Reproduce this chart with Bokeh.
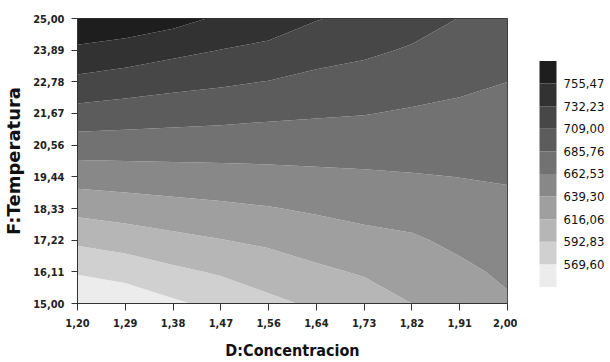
import numpy as np
from bokeh.plotting import figure
from bokeh.models import Range1d, FixedTicker
from bokeh.layouts import row
from bokeh.core.properties import value
from bokeh.embed import file_html
from bokeh.resources import INLINE

# ---------------- data ----------------
# grid positions = axis tick positions
conc = [1.20, 1.28889, 1.37778, 1.46667, 1.55556, 1.64444, 1.73333, 1.82222, 1.91111, 2.00]
temp = [15.00, 16.1111, 17.2222, 18.3333, 19.4444, 20.5556, 21.6667, 22.7778, 23.8889, 25.00]
conc_labels = ["1,20", "1,29", "1,38", "1,47", "1,56", "1,64", "1,73", "1,82", "1,91", "2,00"]
temp_labels = ["15,00", "16,11", "17,22", "18,33", "19,44", "20,56", "21,67", "22,78", "23,89", "25,00"]

# response, one row per temperature (bottom -> top),
# columns follow conc
resp_t1500 = [546.4, 553.6, 565.9, 576.1, 587.5, 596.6, 604.2, 616.1, 626.5, 636.3]
resp_t1611 = [571.9, 578.2, 588.2, 595.4, 603.8, 611.9, 618.4, 626.3, 634.7, 643.2]
resp_t1722 = [597.2, 603.3, 610.0, 615.4, 620.2, 627.0, 632.6, 636.5, 644.0, 650.2]
resp_t1833 = [623.3, 627.7, 631.4, 634.7, 638.1, 642.3, 646.3, 648.4, 653.0, 657.2]
resp_t1944 = [648.8, 650.7, 652.5, 653.9, 655.8, 657.7, 659.3, 661.1, 662.8, 664.4]
resp_t2056 = [674.8, 674.4, 673.9, 673.5, 673.0, 673.0, 673.0, 672.3, 672.1, 671.6]
resp_t2167 = [700.9, 697.9, 695.1, 693.0, 690.2, 688.1, 686.5, 683.4, 681.1, 678.6]
resp_t2278 = [726.4, 721.3, 716.2, 712.5, 708.3, 703.0, 699.7, 695.1, 690.2, 685.8]
resp_t2389 = [751.3, 745.7, 738.3, 731.8, 726.7, 718.1, 713.2, 706.7, 699.5, 693.0]
resp_t2500 = [775.9, 771.5, 763.6, 752.0, 745.0, 733.4, 726.7, 718.3, 708.5, 700.2]

contour_levels = [569.60, 592.83, 616.06, 639.30, 662.53, 685.76, 709.00, 732.23, 755.47]

# band colours, lowest band -> highest band
palette = ["#ececec", "#d0d0d0", "#b6b6b6", "#9f9f9f", "#888888",
           "#727272", "#5c5c5c", "#474747", "#323232", "#1e1e1e"]

# ---------------- main contour plot ----------------
Z = np.array([resp_t1500, resp_t1611, resp_t1722, resp_t1833, resp_t1944,
              resp_t2056, resp_t2167, resp_t2278, resp_t2389, resp_t2500])
levels_full = [float(Z.min()) - 1.0] + contour_levels + [float(Z.max()) + 1.0]

MAIN_W, H = 517, 362
p = figure(width=MAIN_W, height=H, x_range=Range1d(1.2, 2.0), y_range=Range1d(15, 25),
           output_backend="svg", toolbar_location=None,
           min_border_left=77, min_border_right=10, min_border_top=18, min_border_bottom=58)
p.contour(x=conc, y=temp, z=Z, levels=levels_full, fill_color=palette)

p.xgrid.visible = False
p.ygrid.visible = False
p.outline_line_color = "#333333"
p.outline_line_width = 1

p.xaxis.ticker = FixedTicker(ticks=conc)
p.xaxis.major_label_overrides = dict(zip(conc, conc_labels))
p.yaxis.ticker = FixedTicker(ticks=temp)
p.yaxis.major_label_overrides = dict(zip(temp, temp_labels))

for ax in (p.xaxis[0], p.yaxis[0]):
    ax.axis_line_color = "#333333"
    ax.major_tick_line_color = "#333333"
    ax.minor_tick_line_color = None
    ax.major_tick_in = 0
    ax.major_label_text_font = "DejaVu Sans Condensed"
    ax.major_label_text_font_style = "bold"
    ax.major_label_text_font_size = "11px"
    ax.major_label_text_color = "#222222"
    ax.axis_label_text_font_style = "bold"
    ax.axis_label_text_color = "#111111"

p.xaxis.major_tick_out = 7
p.yaxis.major_tick_out = 6
p.xaxis.major_label_standoff = 8
p.yaxis.major_label_standoff = 7

p.xaxis.axis_label = "D:Concentracion"
p.xaxis.axis_label_text_font = "DejaVu Sans Condensed"
p.xaxis.axis_label_text_font_size = "16px"
p.xaxis.axis_label_standoff = 11

p.yaxis.axis_label = "F:Temperatura"
p.yaxis.axis_label_text_font = "DejaVu Sans"
p.yaxis.axis_label_text_font_size = "18px"
p.yaxis.axis_label_standoff = 6

# ---------------- colour bar ----------------
step = contour_levels[1] - contour_levels[0]
edges = [contour_levels[0] - step] + contour_levels + [contour_levels[-1] + step]
cb_labels = [f"{v:.2f}".replace(".", ",") for v in contour_levels]

CB_W = 610 - MAIN_W
bar_top_px, bar_bot_px = 54, 341
per_px = (edges[-1] - edges[0]) / (bar_bot_px - bar_top_px)
y_lo = edges[0] - (H - bar_bot_px) * per_px
y_hi = edges[-1] + bar_top_px * per_px

cb = figure(width=CB_W, height=H, x_range=Range1d(0, CB_W), y_range=Range1d(y_lo, y_hi),
            output_backend="svg", toolbar_location=None, min_border=0,
            x_axis_type=None, y_axis_type=None)
cb.outline_line_color = None
cb.quad(left=22, right=39, bottom=edges[:-1], top=edges[1:], fill_color=palette, line_color=None)
cb.text(x=46, y=contour_levels, text=cb_labels, text_baseline="middle", text_align="left",
        text_font=value("DejaVu Sans Condensed"), text_font_size="13px", text_color="#111111")

layout = row(p, cb)
open("out.html", "w").write(file_html(layout, INLINE))
